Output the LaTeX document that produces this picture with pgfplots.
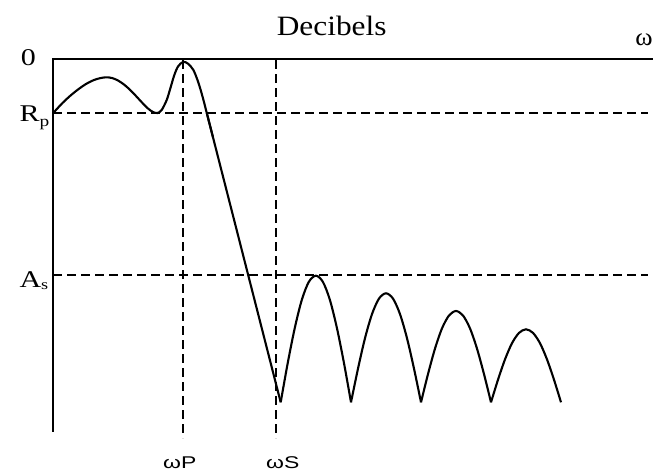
\documentclass[border=0pt]{standalone}
\usepackage{fontspec}
\setmainfont{Liberation Serif}
\newfontfamily\arial{Liberation Sans}
\usepackage{graphicx}
\usepackage{pgfplots}
\pgfplotsset{compat=1.18}
\begin{document}
\begin{tikzpicture}
\begin{axis}[
  scale only axis, width=665pt, height=472pt,
  xmin=0, xmax=665, ymin=0, ymax=472, y dir=reverse,
  hide axis, clip=false,
]
\path (axis cs:0,0) rectangle (axis cs:665,472);
% axes
\addplot[black, line width=2.5pt] coordinates {(53,59) (653,59)};
\addplot[black, line width=2.5pt] coordinates {(53,58) (53,432)};
% dashed guides
\addplot[black, line width=1.7pt, dash pattern=on 9pt off 5pt] coordinates {(53,113) (648,113)};
\addplot[black, line width=1.7pt, dash pattern=on 9pt off 5pt] coordinates {(53,275) (648,275)};
\addplot[black, line width=1.7pt, dash pattern=on 9pt off 5pt] coordinates {(183,60) (183,438)};
\addplot[black, line width=1.7pt, dash pattern=on 9pt off 5pt] coordinates {(276,60) (276,438)};
% passband
\addplot[black, line width=2.1pt, smooth, tension=0.5] coordinates {
(53.5,112.7) (62,103.5) (70,96) (78,89.5) (86,84) (94,80) (100,78.2) (106,77.3)
(112,78) (118,80.5) (124,84.5) (130,89.8) (136,96) (142,102.5) (148,108.5) (153,112) (157.5,113)
(161.7,110) (166.7,100) (170,89.5) (174,76) (178,66.5) (183.3,61.8)
(188.3,63.9) (193.3,69.9) (197.3,79.5) (200.5,89.4) (203.5,100.2) (206.7,112.7) (213,137.3)};
\addplot[black, line width=2.1pt] coordinates {(206.7,112.7) (280.7,402.3)};
% stopband lobes
\addplot[black, line width=2.1pt, smooth] coordinates {
(280.7,402.3) (287.7,363.2) (294.8,327.9) (301.8,299.9) (308.8,281.9) (315.9,275.7)
(322.9,281.9) (329.9,299.9) (336.9,327.9) (344.0,363.2) (351.0,402.3)};
\addplot[black, line width=2.1pt, smooth] coordinates {
(351,402.3) (358,368.6) (365,338.2) (372,314.1) (379,298.6) (386,293.3)
(393,298.6) (400,314.1) (407,338.2) (414,368.6) (421,402.3)};
\addplot[black, line width=2.1pt, smooth] coordinates {
(421,402.3) (428,374.1) (435,348.6) (442,328.4) (449,315.5) (456,311.0)
(463,315.5) (470,328.4) (477,348.6) (484,374.1) (491,402.3)};
\addplot[black, line width=2.1pt, smooth] coordinates {
(491,402.3) (498,379.7) (505,359.4) (512,343.2) (519,332.9) (526,329.3)
(533,332.9) (540,343.2) (547,359.4) (554,379.7) (561,402.3)};
% labels
\node[anchor=base, inner sep=0pt] at (axis cs:331.7,35) {\scalebox{1.12}[1]{\fontsize{28}{30}\selectfont Decibels}};
\node[anchor=base, inner sep=0pt] at (axis cs:28.3,65) {\scalebox{1.25}[1]{\fontsize{24}{26}\selectfont 0}};
\node[anchor=base east, inner sep=0pt] at (axis cs:49.5,121.5) {\scalebox{1.25}[1]{\fontsize{24}{26}\selectfont R\raisebox{-0.22em}{\fontsize{15.5}{15}\selectfont p}}};
\node[anchor=base east, inner sep=0pt] at (axis cs:48.5,287.5) {\scalebox{1.25}[1]{\fontsize{24}{26}\selectfont A\raisebox{-0.08em}{\fontsize{14.5}{14}\selectfont s}}};
\node[anchor=base, inner sep=0pt] at (axis cs:644,45) {\scalebox{1.05}[1]{\fontsize{25}{26}\selectfont ω}};
\node[anchor=base west, inner sep=0pt] at (axis cs:163,468.3) {\scalebox{1.35}[1]{\fontsize{17}{18}\selectfont\arial ωP}};
\node[anchor=base west, inner sep=0pt] at (axis cs:266,468.3) {\scalebox{1.35}[1]{\fontsize{17}{18}\selectfont\arial ωS}};
\end{axis}
\end{tikzpicture}
\end{document}
